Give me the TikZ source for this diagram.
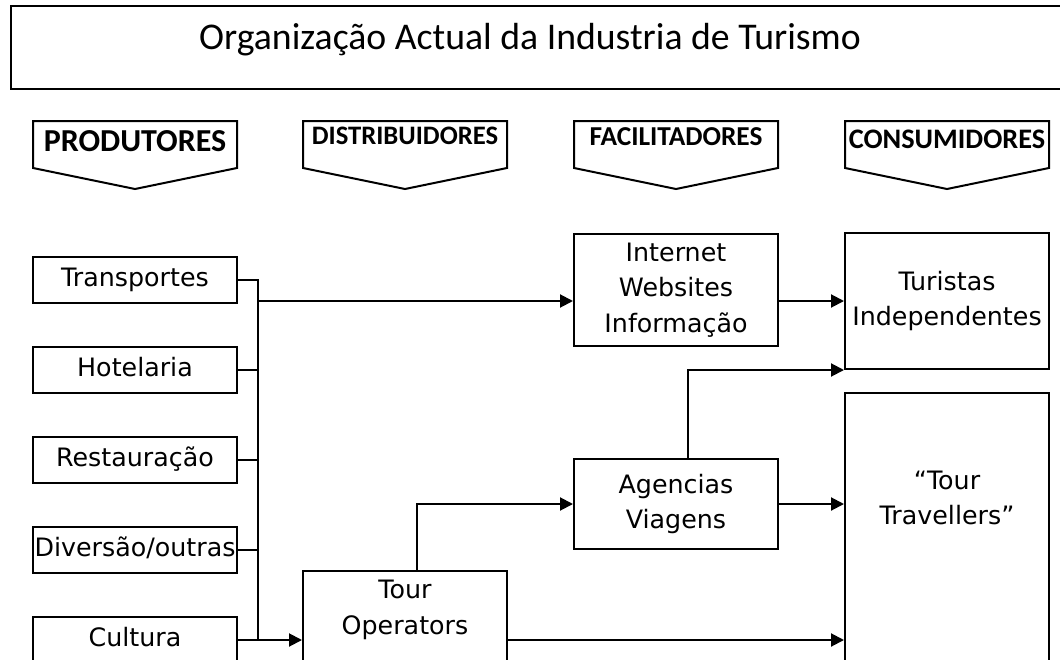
\documentclass[tikz,border=0pt]{standalone}
\usepackage{fontspec}
\setmainfont{DejaVu Sans}
\newfontfamily\titlefont{Carlito}
\usetikzlibrary{arrows.meta}

\begin{document}
\begin{tikzpicture}[x=0.75pt,y=-0.75pt,line width=1.5pt,
  box/.style={draw,minimum width=153pt,inner sep=0pt,align=center,font=\fontsize{19}{26.6}\selectfont},
  prodbox/.style={box,minimum height=34.5pt,text height=14pt,text depth=4.8pt},
  flow/.style={-{Triangle[length=9.75pt,width=9.75pt]}},
  hdr/.style={anchor=base,inner sep=0pt,font=\titlefont\bfseries\fontsize{#1}{#1}\selectfont}]
\useasboundingbox (0,0) rectangle (1060,660);
\clip (0,0) rectangle (1060,660);
\draw (1100,6) -- (11,6) -- (11,89) -- (1100,89);
\node[anchor=base,inner sep=0pt,font=\titlefont\fontsize{28.3}{30}\selectfont] (title) at (530,50) {Organização Actual da Industria de Turismo};
\draw (33,121) -- (237,121) -- (237,168) -- (135,189) -- (33,168) -- cycle;
\node[hdr=24] (prod) at (135,151) {PRODUTORES};
\draw (303,121) -- (507,121) -- (507,168) -- (405,189) -- (303,168) -- cycle;
\node[hdr=20] (distr) at (405,144) {DISTRIBUIDORES};
\draw (574,121) -- (778,121) -- (778,168) -- (676,189) -- (574,168) -- cycle;
\node[hdr=20.5] (facil) at (676,145) {FACILITADORES};
\draw (845,121) -- (1049,121) -- (1049,168) -- (947,189) -- (845,168) -- cycle;
\node[hdr=21.2] (cons) at (947,148) {CONSUMIDORES};
\node[prodbox] (transp) at (135,280) {Transportes};
\node[prodbox] (hotel) at (135,370) {Hotelaria};
\node[prodbox] (rest) at (135,460) {Restauração};
\node[prodbox] (divers) at (135,550) {Diversão/outras};
\node[prodbox] (cultura) at (135,640) {Cultura};
\node[box,minimum height=84pt] (internet) at (676,290) {Internet\\Websites\\Informação};
\node[box,minimum height=102pt] (turistas) at (947,301) {Turistas\\Independentes};
\node[box,minimum height=67.5pt] (agencias) at (676,504) {Agencias\\Viagens};
\node[box,minimum height=82.5pt,anchor=north] (tourop) at (405,570) {};
\node[box,draw=none] (touroptxt) at (405,610) {Tour\\Operators};
\node[box,minimum height=231pt,anchor=north] (travel) at (947,392) {};
\node[box,draw=none] (traveltxt) at (947,498) {“Tour\\Travellers”};
\coordinate (bustop) at (258,279);
\coordinate (busout) at (258,301);
\draw (transp.east) -- (transp.east -| bustop) -- (bustop |- cultura.east);
\draw (hotel.east) -- (hotel.east -| bustop);
\draw (rest.east) -- (rest.east -| bustop);
\draw (divers.east) -- (divers.east -| bustop);
\draw[flow] (cultura.east) -- (cultura.east -| tourop.west);
\draw[flow] (busout) -- (busout -| internet.west);
\draw[flow] (internet.east |- turistas.west) -- (turistas.west);
\draw[flow] ([xshift=9pt]agencias.north) |- (turistas.south west);
\draw[flow] ([xshift=9pt]tourop.north) |- (agencias.west);
\draw[flow] (agencias.east) -- (agencias.east -| travel.west);
\draw[flow] (tourop.east |- cultura.east) -- (travel.west |- cultura.east);
\end{tikzpicture}
\end{document}
